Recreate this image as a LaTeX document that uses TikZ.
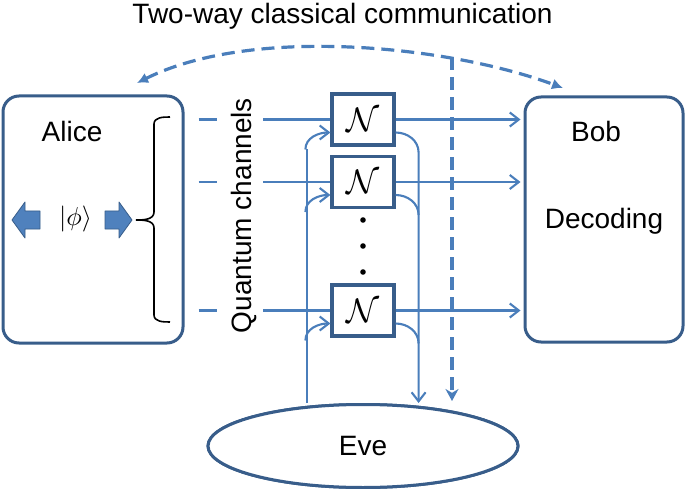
\documentclass[tikz,border=0pt]{standalone}
\usepackage{graphicx}
\usepackage{fontspec}
\setmainfont{Liberation Sans}
\usetikzlibrary{arrows.meta,shapes.geometric,calc}
\definecolor{lineblue}{RGB}{74,126,187}
\definecolor{frameblue}{RGB}{56,93,138}
\definecolor{fillblue}{RGB}{79,129,189}
\newcommand{\bigN}{\scalebox{3.4}{$\mathcal{N}$}}
\begin{document}
\begin{tikzpicture}[x=1pt,y=1pt,
  lbl/.style={font=\fontsize{28}{30}\selectfont, inner sep=0pt},
  ln/.style={draw=lineblue, line width=2.1pt},
  arr/.style={-{Straight Barb[length=9pt,width=14pt,line width=2.1pt]}},
  frame/.style={draw=frameblue, line width=3pt, rounded corners=16pt, fill=white},
  nbox/.style={draw=frameblue, line width=3.2pt, minimum width=62pt, minimum height=51pt, fill=white, inner sep=0pt},
  dashline/.style={draw=lineblue, line width=3.2pt, dash pattern=on 13pt off 7pt},
  blockarrow/.style={fill=fillblue, draw=frameblue, line width=0.8pt, line join=round},
  brace/.style={draw=black, line width=1.6pt}
]
\useasboundingbox (0,0) rectangle (685,-489);

% title
\node[lbl, anchor=base] (title) at (342.5,-24) {Two-way classical communication};

% main boxes
\node[frame, minimum width=180pt, minimum height=247pt] (alice) at (93,-219.5) {};
\node[frame, minimum width=158pt, minimum height=245pt] (bob) at (604,-219.5) {};
\node[lbl, anchor=base] (alicelbl) at (72,-142) {Alice};
\node[lbl, anchor=base] (boblbl) at (596,-142) {Bob};
\node[lbl, anchor=base] (declbl) at (604,-228) {Decoding};
\node[inner sep=0pt] (phi) at (75.5,-219) {\scalebox{2.6}{$|\phi\rangle$}};

% block arrows
\draw[blockarrow] (12,-220) -- (25,-202) -- (25,-211) -- (40,-211) -- (40,-229) -- (25,-229) -- (25,-238) -- cycle;
\draw[blockarrow] (132,-220) -- (119,-202) -- (119,-211) -- (105,-211) -- (105,-229) -- (119,-229) -- (119,-238) -- cycle;

% brace
\draw[brace] (170,-117) to[out=180,in=90] (154,-124) -- (154,-212) to[out=-90,in=0] (136,-220);
\draw[brace] (136,-220) to[out=0,in=90] (154,-228) -- (154,-315) to[out=-90,in=180] (170,-322);

% quantum channels label
\node[lbl, rotate=90, anchor=base] (qc) at (251,-215.5) {Quantum channels};

% Eve (placed first for anchors)
\coordinate (lvtop) at (307,-149.5);
\node[draw=frameblue, line width=3pt, ellipse, minimum width=310pt, minimum height=83pt, inner sep=0pt] (eve) at (363,-446) {};

% channel boxes
\node[nbox] (n1) at (363,-119.5) {\bigN};
\node[nbox] (n2) at (363,-182) {\bigN};
\node[nbox] (n3) at (363,-310.5) {\bigN};

% left feeder
\draw[ln] (lvtop |- eve.north) -- (lvtop);
\draw[ln, arr] ($(n1.west)+(-25,-30)$) to[out=90,in=180] ($(n1.west)+(0,-13)$);
\draw[ln, arr] ($(n2.west)+(-25,-30)$) to[out=90,in=180] ($(n2.west)+(0,-13)$);
\draw[ln, arr] ($(n3.west)+(-25,-30)$) to[out=90,in=180] ($(n3.west)+(0,-13)$);

% right outputs to Eve
\coordinate (rvtop) at ($(n1.east)+(23,-33)$);
\draw[ln, arr] ($(n1.east)+(0,-13)$) to[out=0,in=90] (rvtop) -- (rvtop |- eve.north);
\draw[ln] ($(n2.east)+(0,-13)$) to[out=0,in=90] ($(n2.east)+(23,-33)$);
\draw[ln] ($(n3.east)+(0,-13)$) to[out=0,in=90] ($(n3.east)+(23,-33)$);

% channel lines
\foreach \n in {n1,n2,n3}{
  \draw[ln] ($(alice.east |- \n.west)+(14,0)$) -- ++(18,0);
  \draw[ln] ($(\n.west)+(-67,0)$) -- (\n.west);
  \draw[ln, arr, shorten >=3pt] (\n.east) -- (\n.east -| bob.west);
}

% dots
\fill (363,-220) circle (2.8pt);
\fill (363,-246) circle (2.8pt);
\fill (363,-272) circle (2.8pt);

% classical communication
\coordinate (al) at (137,-83);
\coordinate (bo) at (563,-88);
\draw[dashline, {Latex[length=11pt,width=11pt]}-{Latex[length=11pt,width=11pt]}] (al) .. controls (252,-25.5) and (448,-45.5) .. (bo);
\coordinate (cc) at (452,-57);
\draw[dashline, -{Stealth[length=12pt,width=13pt]}, shorten >=2pt] (cc) -- (cc |- eve.north);

% Eve on top
\node[draw=frameblue, line width=3pt, ellipse, minimum width=310pt, minimum height=83pt, inner sep=0pt, fill=white] (eve2) at (eve) {};
\node[lbl] (evelbl) at (eve) {Eve};
\end{tikzpicture}
\end{document}
